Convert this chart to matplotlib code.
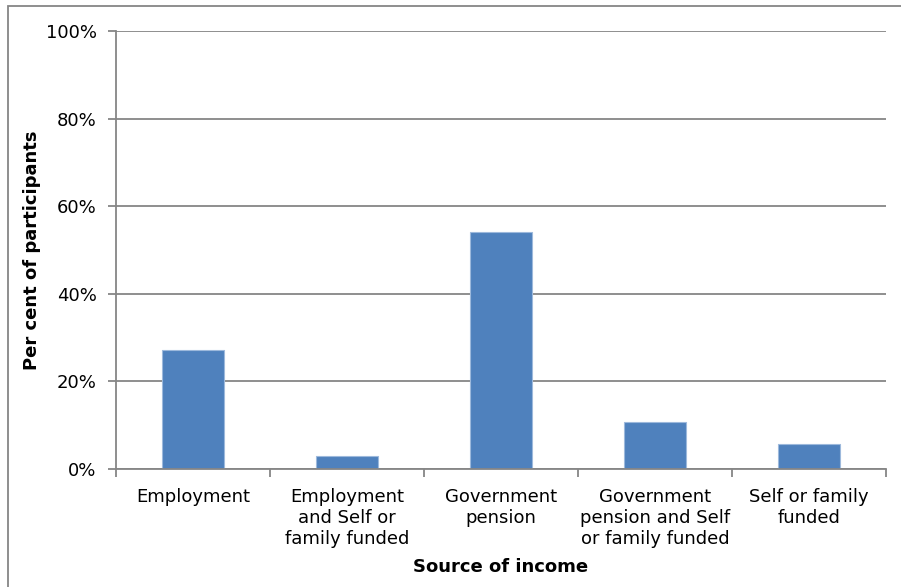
import matplotlib.pyplot as plt
from matplotlib.patches import Rectangle
from matplotlib.ticker import PercentFormatter

# share of participants by main source of income
categories = ['Employment',
              'Employment\nand Self or\nfamily funded',
              'Government\npension',
              'Government\npension and Self\nor family funded',
              'Self or family\nfunded']
percent = [27.2, 3.0, 54.0, 10.7, 5.7]

plt.rcParams['font.family'] = ['DejaVu Sans']
fig = plt.figure(figsize=(9.01, 5.87), dpi=100)
ax = fig.add_axes([116 / 901, 1 - 469 / 587, 770 / 901, 438 / 587])

pos = list(range(len(categories)))
ax.bar(pos, percent, width=0.4, color='#4F81BD', edgecolor='#9DB9DC', linewidth=0.8, zorder=3)

ax.set_xlim(-0.5, len(categories) - 0.5)
ax.set_ylim(0, 100)
ax.set_yticks([0, 20, 40, 60, 80, 100])
ax.yaxis.set_major_formatter(PercentFormatter(decimals=0))
ax.grid(axis='y', color='#868686', linewidth=1.3, zorder=0)

# category labels sit between the boundary ticks
ax.set_xticks([p - 0.5 for p in pos] + [len(categories) - 0.5])
ax.set_xticklabels([])
ax.set_xticks(pos, minor=True)
ax.set_xticklabels(categories, minor=True, fontsize=13, linespacing=1.2, va='top')
ax.tick_params(axis='x', which='minor', length=0, pad=14)
ax.tick_params(axis='x', which='major', length=6, width=1.3, color='#868686')
ax.tick_params(axis='y', length=6, width=1.3, color='#868686', labelsize=13, pad=8)

for side in ['top', 'right']:
    ax.spines[side].set_visible(False)
for side in ['left', 'bottom']:
    ax.spines[side].set_color('#868686')
    ax.spines[side].set_linewidth(1.3)
    ax.spines[side].set_zorder(4)

ax.set_xlabel('Source of income', fontsize=13, fontweight='bold', labelpad=7)
ax.set_ylabel('Per cent of participants', fontsize=13, fontweight='bold', labelpad=3)

# chart border
fig.patches.append(Rectangle((8 / 901, -0.1), 1.2, 1 - 6 / 587 + 0.1, transform=fig.transFigure,
                             fill=False, edgecolor='#868686', linewidth=1.3))

fig.savefig('out.png', dpi=100)
